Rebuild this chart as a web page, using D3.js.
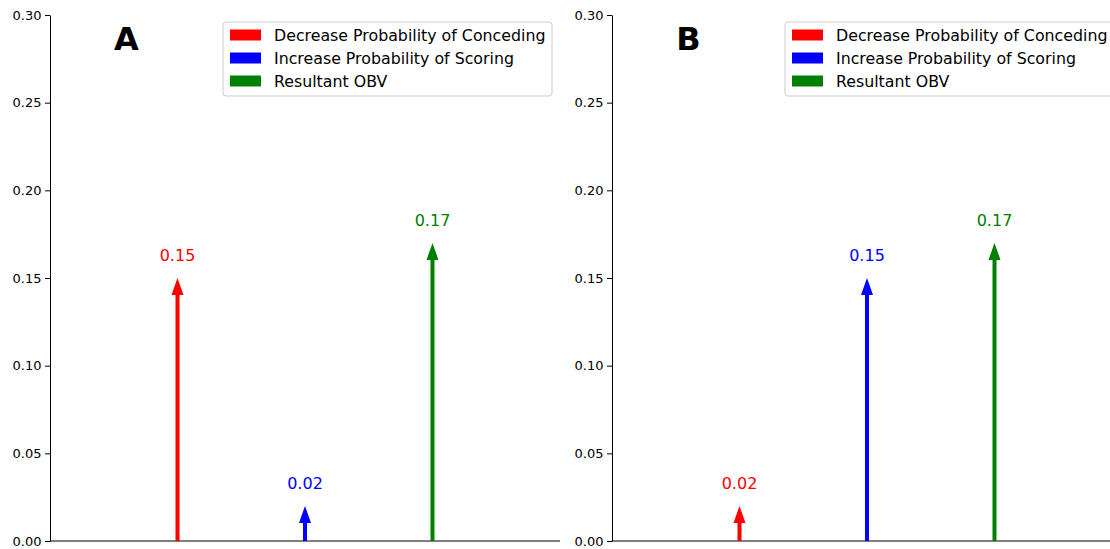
<!DOCTYPE html>
<html>
<head>
<meta charset="utf-8">
<script src="https://cdn.jsdelivr.net/npm/d3@7"></script>
<style>
  html, body { margin: 0; padding: 0; background: #fff; }
  svg { display: block; font-family: "DejaVu Sans", sans-serif; }
</style>
</head>
<body>
<svg id="chart" width="1110" height="549"></svg>
<script>
// Components of OBV, one arrow per component
const categories = ["Decrease Probability of Conceding", "Increase Probability of Scoring", "Resultant OBV"];
const colors = ["#ff0000", "#0000ff", "#008000"];
const xPositions = [1, 2, 3];
const panelLabels = ["A", "B"];
const valuesA = [0.15, 0.02, 0.17];
const valuesB = [0.02, 0.15, 0.17];
const yTicks = [0.00, 0.05, 0.10, 0.15, 0.20, 0.25, 0.30];

(function draw() {
  const panels = [
    { label: panelLabels[0], values: valuesA, left: 50 },
    { label: panelLabels[1], values: valuesB, left: 612 }
  ];

  const svg = d3.select("#chart");
  const plotTop = 15, plotBottom = 541, axW = 510;

  const y = d3.scaleLinear().domain([0, 0.30]).range([plotBottom, plotTop]);

  panels.forEach(p => {
    const x = d3.scaleLinear().domain([0, 4]).range([p.left, p.left + axW]);
    const g = svg.append("g");

    // y axis (left spine)
    const yAxis = d3.axisLeft(y)
      .tickValues(yTicks)
      .tickFormat(d3.format(".2f"))
      .tickSize(5)
      .tickSizeOuter(0)
      .tickPadding(3.5);
    const ax = g.append("g")
      .attr("transform", `translate(${p.left},0)`)
      .call(yAxis);
    ax.selectAll("text").attr("font-size", 13).attr("font-family", "DejaVu Sans").attr("fill", "#000");
    ax.selectAll("line, path").attr("stroke", "#000").attr("stroke-width", 1);

    // bottom spine
    g.append("line")
      .attr("x1", p.left).attr("x2", p.left + axW)
      .attr("y1", y(0)).attr("y2", y(0))
      .attr("stroke", "#000").attr("stroke-width", 1);

    // arrows
    const shaftW = 4, headW = 12, headL = 17;
    p.values.forEach((v, i) => {
      const cx = x(xPositions[i]);
      const y0 = y(0), yt = y(v);
      const hb = yt + headL;
      const path = d3.path();
      path.moveTo(cx - shaftW / 2, y0);
      path.lineTo(cx - shaftW / 2, hb);
      path.lineTo(cx - headW / 2, hb);
      path.lineTo(cx, yt);
      path.lineTo(cx + headW / 2, hb);
      path.lineTo(cx + shaftW / 2, hb);
      path.lineTo(cx + shaftW / 2, y0);
      path.closePath();
      g.append("path").attr("d", path.toString()).attr("fill", colors[i]);

      g.append("text")
        .attr("x", cx).attr("y", y(v + 0.01) + 0.8)
        .attr("text-anchor", "middle")
        .attr("font-size", 16)
        .attr("fill", colors[i])
        .text(v.toFixed(2));
    });

    // panel letter
    g.append("text")
      .attr("x", p.left + axW * 0.15).attr("y", y(0.28))
      .attr("text-anchor", "middle")
      .attr("font-size", 32)
      .attr("font-weight", "bold")
      .text(p.label);

    // legend
    const lx = p.left + axW - 8 - 329, ly = 22;
    const lg = g.append("g").attr("transform", `translate(${lx},${ly})`);
    lg.append("rect")
      .attr("x", 0).attr("y", 0).attr("width", 329).attr("height", 74)
      .attr("rx", 3).attr("ry", 3)
      .attr("fill", "#fff").attr("fill-opacity", 0.8)
      .attr("stroke", "#cccccc").attr("stroke-width", 1);
    categories.forEach((c, i) => {
      const cy = 13 + i * 23;
      lg.append("rect")
        .attr("x", 7).attr("y", cy - 5.5).attr("width", 31).attr("height", 11)
        .attr("fill", colors[i]);
      lg.append("text")
        .attr("x", 51).attr("y", cy + 5.7)
        .attr("font-size", 15.8)
        .attr("fill", "#000")
        .text(c);
    });
  });
})();
</script>
</body>
</html>
